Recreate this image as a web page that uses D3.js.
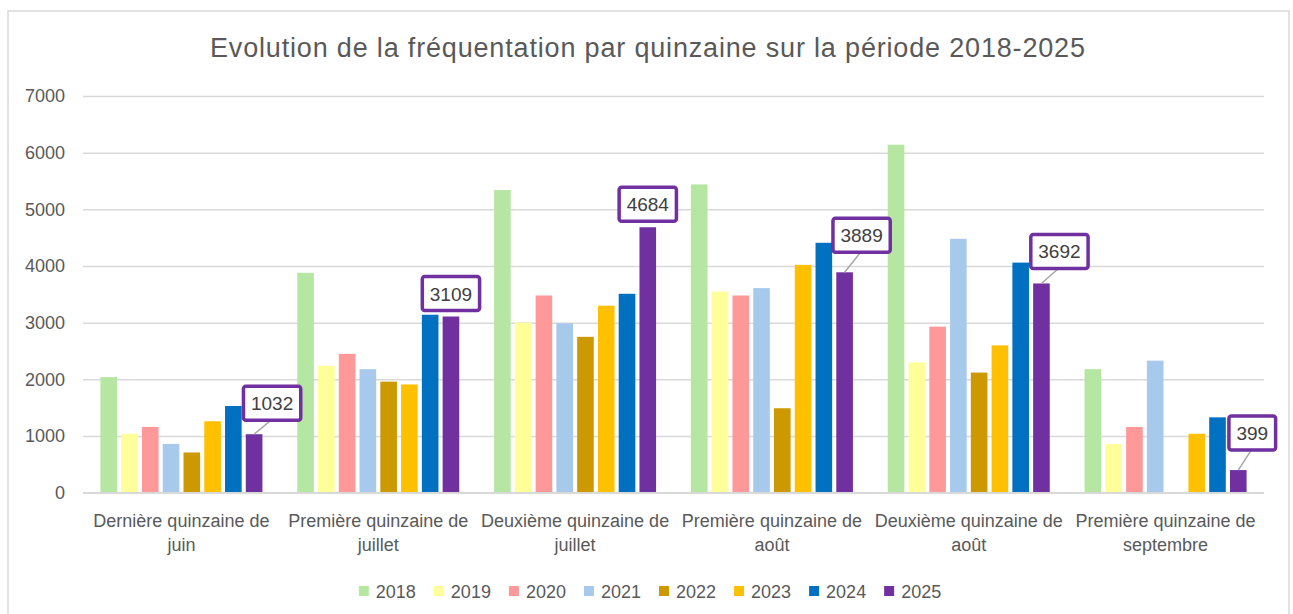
<!DOCTYPE html>
<html>
<head>
<meta charset="utf-8">
<script src="https://cdn.jsdelivr.net/npm/d3@7"></script>
<style>
  html, body { margin: 0; padding: 0; background: #ffffff; }
  svg { display: block; font-family: "Liberation Sans", Arial, sans-serif; }
</style>
</head>
<body>
<svg id="chart" width="1293" height="614"></svg>
<script>
// ---- Data ----
const title = "Evolution de la fréquentation par quinzaine sur la période 2018-2025";
const categories = [
  "Dernière quinzaine de juin",
  "Première quinzaine de juillet",
  "Deuxième quinzaine de juillet",
  "Première quinzaine de août",
  "Deuxième quinzaine de août",
  "Première quinzaine de septembre"
];
const years = ["2018", "2019", "2020", "2021", "2022", "2023", "2024", "2025"];
const v2018 = [2040, 3880, 5340, 5440, 6140, 2180];
const v2019 = [1040, 2240, 3000, 3550, 2300, 860];
const v2020 = [1160, 2450, 3480, 3480, 2930, 1160];
const v2021 = [860, 2180, 2990, 3610, 4480, 2330];
const v2022 = [710, 1960, 2750, 1490, 2120, null];
const v2023 = [1260, 1910, 3300, 4020, 2600, 1040];
const v2024 = [1530, 3140, 3510, 4410, 4060, 1330];
const v2025 = [1032, 3109, 4684, 3889, 3692, 399];
const yTicks = [0, 1000, 2000, 3000, 4000, 5000, 6000, 7000];
const colors = ["#b5e6a2", "#ffff99", "#ff9999", "#a6c9ec", "#cc9900", "#ffc000", "#0070c0", "#7030a0"];
// callout offsets for the 2025 labels: [horizontal shift, gap above bar]
const calloutDx = [18, 0, 0, 17, 18, 14];
const calloutGap = [14, 6, 6, 20, 15, 20];

const series = [v2018, v2019, v2020, v2021, v2022, v2023, v2024, v2025];

// ---- Layout ----
const svg = d3.select("#chart");
const W = 1293, H = 614;
const mLeft = 83, mRight = 1264, mTop = 96, mBottom = 492.7;
const textColor = "#595959";

svg.append("rect").attr("x", 0).attr("y", 0).attr("width", W).attr("height", H).attr("fill", "#fff");
svg.append("rect").attr("x", 8).attr("y", 11).attr("width", 1281).attr("height", 640)
  .attr("fill", "#fff").attr("stroke", "#d9d9d9").attr("stroke-width", 1.5);

svg.append("text").attr("x", 647.5).attr("y", 57)
  .attr("text-anchor", "middle").attr("font-size", 27).attr("fill", textColor)
  .attr("textLength", 875).attr("lengthAdjust", "spacing")
  .text(title);

const y = d3.scaleLinear().domain([0, 7000]).range([mBottom, mTop]);
const x0 = d3.scaleBand().domain(categories).range([mLeft, mRight]).paddingInner(0.177).paddingOuter(0.0885);
const x1 = d3.scaleBand().domain(years).range([0, x0.bandwidth()]).paddingInner(0.2);

// gridlines
const yAxis = d3.axisLeft(y).tickValues(yTicks).tickFormat(d3.format("d"))
  .tickSize(-(mRight - mLeft)).tickPadding(18);
const gy = svg.append("g").attr("transform", `translate(${mLeft},0)`).call(yAxis);
gy.select(".domain").remove();
gy.selectAll(".tick line").attr("stroke", "#d9d9d9").attr("stroke-width", 1.5);
gy.selectAll(".tick text").attr("font-size", 18).attr("fill", textColor)
  .attr("font-family", "'Liberation Sans', Arial, sans-serif");

// bars
const rows = [];
categories.forEach((c, ci) => {
  years.forEach((yr, si) => {
    const v = series[si][ci];
    if (v !== null && v !== undefined) rows.push({ c, ci, yr, si, v });
  });
});
svg.append("g").selectAll("rect").data(rows).join("rect")
  .attr("x", d => x0(d.c) + x1(d.yr))
  .attr("y", d => y(d.v))
  .attr("width", x1.bandwidth())
  .attr("height", d => y(0) - y(d.v))
  .attr("fill", d => colors[d.si]);

// baseline
svg.append("line").attr("x1", mLeft).attr("x2", mRight).attr("y1", y(0)).attr("y2", y(0))
  .attr("stroke", "#d9d9d9").attr("stroke-width", 1.5);

// category labels (two lines)
const gx = svg.append("g");
categories.forEach(c => {
  const words = c.split(" ");
  const l2 = words.pop();
  const l1 = words.join(" ");
  const cx = x0(c) + x0.bandwidth() / 2;
  const t = gx.append("text").attr("text-anchor", "middle").attr("font-size", 18).attr("fill", textColor);
  t.append("tspan").attr("x", cx).attr("y", 527).text(l1);
  t.append("tspan").attr("x", cx).attr("y", 551).text(l2);
});

// callouts for 2025
const gl = svg.append("g");
categories.forEach((c, ci) => {
  const v = v2025[ci];
  const bx = x0(c) + x1("2025") + x1.bandwidth() / 2;
  const by = y(v);
  const tmp = gl.append("text").attr("font-size", 19).text(String(v));
  const tw = tmp.node().getComputedTextLength();
  tmp.remove();
  const bw = tw + 15, bh = 34;
  const cx = bx + calloutDx[ci];
  const boxBottom = by - calloutGap[ci];
  if (calloutDx[ci] !== 0) {
    gl.append("line").attr("x1", bx).attr("y1", by).attr("x2", cx - 1).attr("y2", boxBottom)
      .attr("stroke", "#a6a6a6").attr("stroke-width", 1.5);
  }
  gl.append("rect").attr("x", cx - bw / 2).attr("y", boxBottom - bh)
    .attr("width", bw).attr("height", bh).attr("rx", 2.5)
    .attr("fill", "#fff").attr("stroke", "#7030a0").attr("stroke-width", 3.5);
  gl.append("text").attr("x", cx).attr("y", boxBottom - bh / 2 + 7)
    .attr("text-anchor", "middle").attr("font-size", 19).attr("fill", "#404040").text(String(v));
});

// legend
const lg = svg.append("g");
const items = years.map((yr, i) => {
  const t = lg.append("text").attr("font-size", 18).attr("fill", textColor).text(yr);
  return { yr, i, t, w: t.node().getComputedTextLength() };
});
const sq = 10, gapT = 7, gapItem = 18;
const total = d3.sum(items, d => sq + gapT + d.w) + gapItem * (items.length - 1);
let lx = 650 - total / 2;
const ly = 591;
items.forEach(d => {
  lg.append("rect").attr("x", lx).attr("y", ly - sq / 2).attr("width", sq).attr("height", sq).attr("fill", colors[d.i]);
  d.t.attr("x", lx + sq + gapT).attr("y", ly + 6.5);
  lx += sq + gapT + d.w + gapItem;
});
</script>
</body>
</html>
